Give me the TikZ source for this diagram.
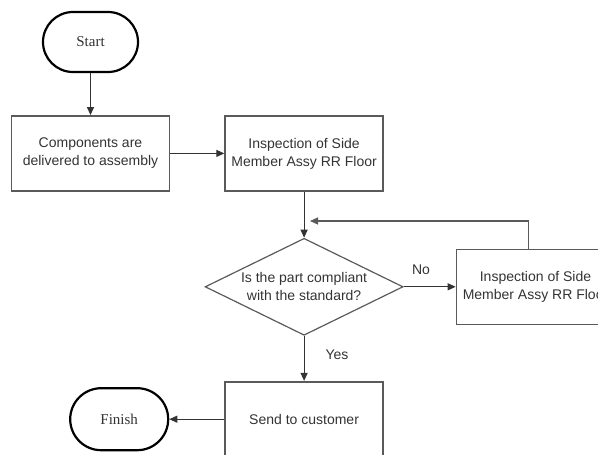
\documentclass[tikz,border=0pt]{standalone}
\usepackage{fontspec}
\setmainfont{Liberation Sans}
\newfontfamily\termfont{Liberation Serif}
\usepackage{tikz}
\usetikzlibrary{positioning,arrows.meta,shapes.geometric,calc}
\definecolor{inkgray}{HTML}{333333}
\definecolor{boxgray}{HTML}{5A5A5A}

\begin{document}
\begin{tikzpicture}[
  x=1pt, y=1pt,
  terminal/.style={rectangle, rounded corners=30pt, draw=black, line width=2.2pt,
                   minimum width=95pt, minimum height=60pt, align=center,
                   text=inkgray, font=\termfont\fontsize{15}{18}\selectfont},
  process/.style={rectangle, draw=boxgray, line width=1.6pt,
                  minimum width=158pt, minimum height=75pt, align=center,
                  text=inkgray, font=\fontsize{14}{18}\selectfont},
  decision/.style={diamond, draw=boxgray, line width=1.2pt, aspect=2, inner sep=0pt,
                   minimum width=198pt, minimum height=97pt, align=center,
                   text=inkgray, font=\fontsize{14}{18}\selectfont},
  arr/.style={-{Triangle[length=8pt,width=7pt]}, line width=1.1pt, draw=inkgray},
  lbl/.style={text=inkgray, font=\fontsize{14}{18}\selectfont},
]
  \useasboundingbox (0,0) rectangle (598,-455);
  \clip (0,0) rectangle (598,-455);

  % Start and first row
  \node[terminal] (start) at (90.5,-42) {Start};
  \node[process, below=42pt of start] (deliver) {Components are\\delivered to assembly};
  \node[process, right=54pt of deliver] (inspect) {Inspection of Side\\Member Assy RR Floor};

  % Check
  \node[decision, below=46pt of inspect] (check) {Is the part compliant\\with the standard?};
  \node[process, right=52pt of check] (recheck) {Inspection of Side\\Member Assy RR Floor};

  % End
  \node[process, below=45pt of check] (send) {Send to customer};
  \node[terminal, rounded corners=31pt, minimum width=98pt, minimum height=62pt,
        left=55pt of send] (finish) {Finish};

  % Labels
  \node[lbl] (no) at (421,-270) {No};
  \node[lbl] (yes) at (337,-355) {Yes};

  % Arrows
  \draw[arr] (start) -- (deliver);
  \draw[arr] (deliver) -- (inspect);
  \draw[arr] (inspect) -- (check);
  \draw[arr] (check) -- (recheck);
  \draw[arr] (check) -- (send);
  \draw[arr] (send) -- (finish);

  % Loop back
  \coordinate (back) at (310,-221);
  \draw[arr, draw=boxgray] ([xshift=-7pt]recheck.north) |- (back);
\end{tikzpicture}
\end{document}
